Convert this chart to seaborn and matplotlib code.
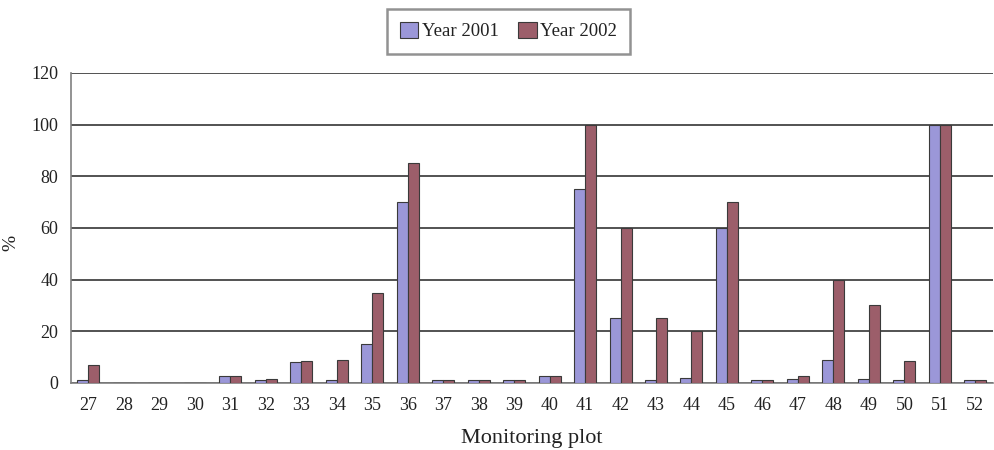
import matplotlib
matplotlib.use("Agg")
import matplotlib.pyplot as plt
from matplotlib.ticker import FixedLocator
import seaborn as sns
import pandas as pd

plots = [str(p) for p in range(27, 53)]
year_2001 = [1, 0, 0, 0, 2.5, 1, 8, 1, 15, 70, 1, 1, 1, 2.5,
             75, 25, 1, 2, 60, 1, 1.5, 9, 1.5, 1, 100, 1]
year_2002 = [7, 0, 0, 0, 2.5, 1.5, 8.5, 9, 35, 85, 1, 1, 1, 2.5,
             100, 60, 25, 20, 70, 1, 2.5, 40, 30, 8.5, 100, 1]
series = ["Year 2001", "Year 2002"]
colors = ["#9b97d8", "#9c5e6a"]
y_ticks = [0, 20, 40, 60, 80, 100, 120]

df = pd.DataFrame({
    "plot": plots * 2,
    "value": year_2001 + year_2002,
    "series": [series[0]] * len(plots) + [series[1]] * len(plots),
})

sns.set_style("white")
plt.rcParams["font.family"] = ["Liberation Serif", "DejaVu Serif"]

fig = plt.figure(figsize=(9.95, 4.5), dpi=100)
ax = fig.add_axes([0.071, 0.149, 0.927, 0.689])

sns.barplot(data=df, x="plot", y="value", hue="series", order=plots,
            hue_order=series, palette=colors, width=0.62, dodge=True,
            edgecolor="#3a3a3a", linewidth=0.8, saturation=1, ax=ax,
            legend=True)
for bar in ax.patches:
    bar.set_zorder(3)

ax.set_ylim(0, 120)
ax.set_xlim(-0.5, len(plots) - 0.5)
ax.set_yticks(y_ticks)
ax.yaxis.grid(True, color="#444444", linewidth=1.3)
ax.set_axisbelow(True)
for side in ["top", "right"]:
    ax.spines[side].set_visible(False)
for side in ["left", "bottom"]:
    ax.spines[side].set_color("#808080")
    ax.spines[side].set_linewidth(1.2)
    ax.spines[side].set_zorder(2.8)

ax.tick_params(axis="x", which="major", length=0, labelsize=13, pad=10,
               colors="#222222")
ax.xaxis.set_minor_locator(FixedLocator([i - 0.5 for i in range(len(plots) + 1)]))
ax.tick_params(axis="x", which="minor", length=5, width=1.2, color="#808080",
               direction="out")
ax.tick_params(axis="y", length=5, width=1.2, color="#808080", labelsize=13,
               pad=4, colors="#222222")
ax.tick_params(axis="both", labelcolor="#222222")

ax.set_xlabel("Monitoring plot", fontsize=16, color="#222222", labelpad=11)
ax.set_ylabel("%", fontsize=14, color="#222222")
ax.yaxis.set_label_coords(-0.056, 0.45)

handles, labels = ax.get_legend_handles_labels()
ax.get_legend().remove()
leg = fig.legend(handles, labels, loc="center", bbox_to_anchor=(0.511, 0.931),
                 ncol=2, frameon=True, fancybox=False, fontsize=13.5,
                 handlelength=1.0, handleheight=1.0, handletextpad=0.2,
                 columnspacing=1.0, borderpad=0.7, borderaxespad=0,
                 edgecolor="#777777")
leg.get_frame().set_linewidth(1.8)
for t in leg.get_texts():
    t.set_color("#222222")

fig.savefig("out.png", dpi=100)
